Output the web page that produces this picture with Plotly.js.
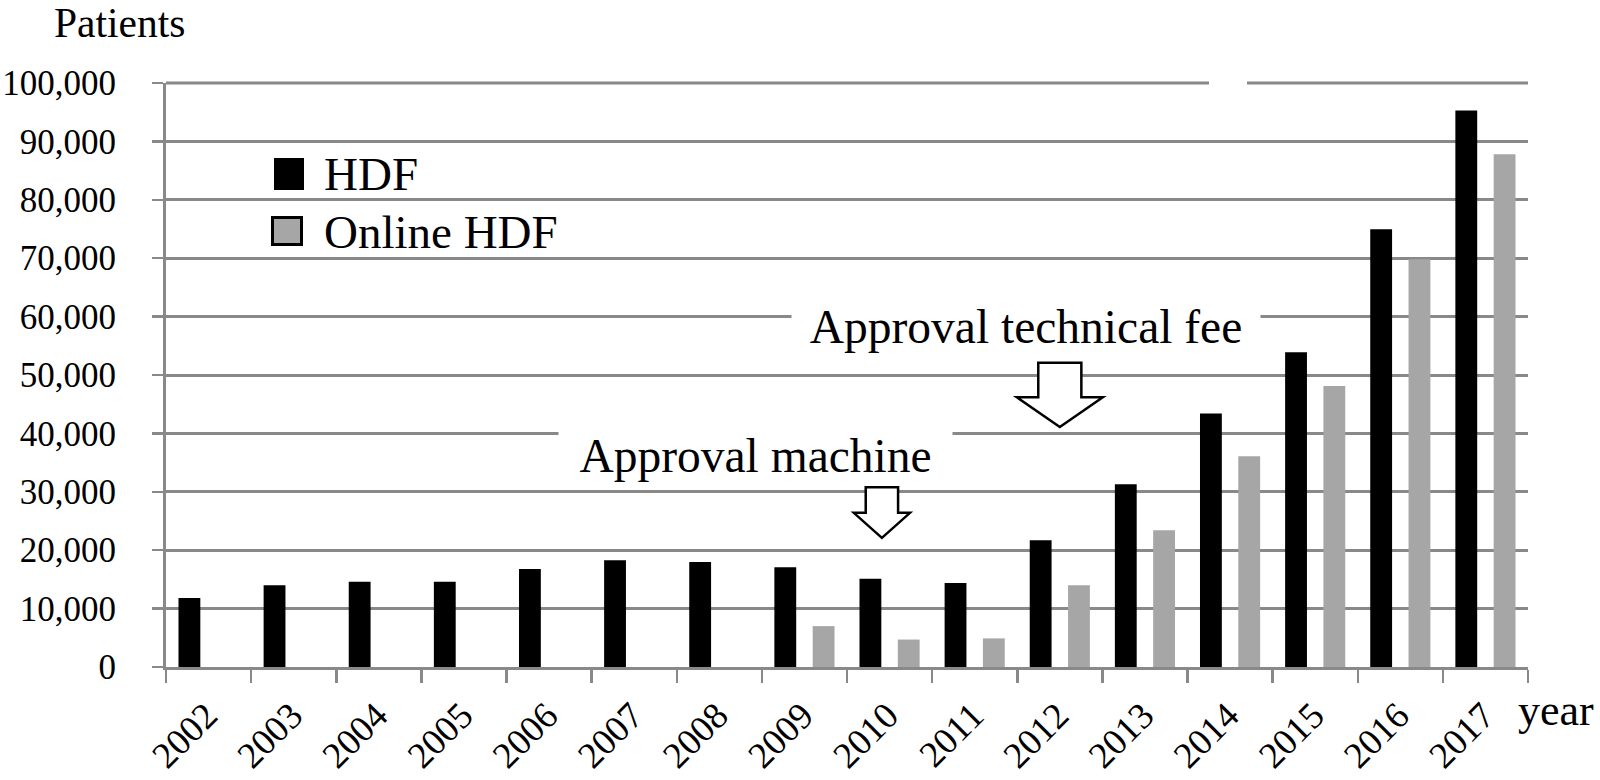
<!DOCTYPE html>
<html>
<head>
<meta charset="utf-8">
<script src="https://cdn.plot.ly/plotly-3.0.1.min.js"></script>
<style>html,body{margin:0;padding:0;background:#fff;}#chart{width:1600px;height:780px;}</style>
</head>
<body>
<div id="chart"></div>
<script>
// ---- data ----
const years = ['2002','2003','2004','2005','2006','2007','2008','2009','2010','2011','2012','2013','2014','2015','2016','2017'];
const hdfPatients = [11800, 14000, 14600, 14600, 16800, 18300, 18000, 17100, 15100, 14400, 21700, 31300, 43400, 53900, 74950, 95300];
const onlineHdfPatients = [null, null, null, null, null, null, null, 7000, 4700, 4900, 14000, 23400, 36100, 48100, 69800, 87800];
const seriesNames = ['HDF', 'Online HDF'];
const yTickValues = [0, 10000, 20000, 30000, 40000, 50000, 60000, 70000, 80000, 90000, 100000];

// ---- style ----
const FONT = 'Liberation Serif';
const GRID = '#898989';
const HDF_COLOR = '#000000';
const ONLINE_COLOR = '#a6a6a6';

const W = 1600, H = 780;
const M = {l: 166, r: 72, t: 83, b: 113};
const PW = W - M.l - M.r, PH = H - M.t - M.b;
const px = x => (x - M.l) / PW;           // pixel -> paper x
const py = y => (H - M.b - y) / PH;       // pixel -> paper y

const traces = [
  {type: 'bar', name: seriesNames[0], x: years, y: hdfPatients,
   marker: {color: HDF_COLOR, line: {width: 0}}, showlegend: false, hoverinfo: 'x+y+name'},
  {type: 'bar', name: seriesNames[1], x: years, y: onlineHdfPatients,
   marker: {color: ONLINE_COLOR, line: {width: 0}}, showlegend: false, hoverinfo: 'x+y+name'}
];

function blockArrow(cx, half, shaftHalf, top, neck, tip) {
  return {
    type: 'path', xref: 'x', yref: 'y', layer: 'above',
    path: `M ${cx - shaftHalf},${top} L ${cx + shaftHalf},${top} L ${cx + shaftHalf},${neck} L ${cx + half},${neck} L ${cx},${tip} L ${cx - half},${neck} L ${cx - shaftHalf},${neck} Z`,
    fillcolor: '#ffffff', line: {color: '#000000', width: 2.5}
  };
}

const shapes = [
  // top gridline (100,000), broken by a small gap as in the reference
  {type: 'line', xref: 'paper', yref: 'paper', layer: 'below',
   x0: 0, x1: px(1209), y0: 1, y1: 1, line: {color: GRID, width: 3}},
  {type: 'line', xref: 'paper', yref: 'paper', layer: 'below',
   x0: px(1247), x1: 1, y0: 1, y1: 1, line: {color: GRID, width: 3}},
  // arrows
  blockArrow(7.91, 0.33, 0.19, 30800, 26400, 22100),
  blockArrow(10.0, 0.505, 0.253, 52100, 46200, 41100),
  // legend keys
  {type: 'rect', xref: 'paper', yref: 'paper', layer: 'above',
   x0: px(274), x1: px(304), y0: py(190), y1: py(158), fillcolor: HDF_COLOR, line: {width: 0}},
  {type: 'rect', xref: 'paper', yref: 'paper', layer: 'above',
   x0: px(272.5), x1: px(301.5), y0: py(244.5), y1: py(217.5), fillcolor: ONLINE_COLOR, line: {color: '#000000', width: 3}}
];

const annotations = [
  {text: 'Patients', xref: 'paper', yref: 'paper', x: px(52), y: py(23), xanchor: 'left', yanchor: 'middle',
   showarrow: false, font: {family: FONT, size: 41.5, color: '#000'}},
  {text: 'year', xref: 'paper', yref: 'paper', x: px(1516), y: py(710), xanchor: 'left', yanchor: 'middle',
   showarrow: false, font: {family: FONT, size: 44, color: '#000'}},
  {text: seriesNames[0], xref: 'paper', yref: 'paper', x: px(322), y: py(174), xanchor: 'left', yanchor: 'middle',
   showarrow: false, font: {family: FONT, size: 47, color: '#000'}},
  {text: seriesNames[1], xref: 'paper', yref: 'paper', x: px(322), y: py(232), xanchor: 'left', yanchor: 'middle',
   showarrow: false, font: {family: FONT, size: 47, color: '#000'}},
  {text: 'Approval technical fee', xref: 'x', yref: 'y', x: 9.6, y: 58300, xanchor: 'center', yanchor: 'middle',
   showarrow: false, bgcolor: '#ffffff', width: 468, height: 58, borderpad: 0,
   font: {family: FONT, size: 47.5, color: '#000'}},
  {text: 'Approval machine', xref: 'x', yref: 'y', x: 6.43, y: 36200, xanchor: 'center', yanchor: 'middle',
   showarrow: false, bgcolor: '#ffffff', width: 393, height: 58, borderpad: 0,
   font: {family: FONT, size: 47.5, color: '#000'}}
];

const layout = {
  width: W, height: H,
  margin: M,
  paper_bgcolor: '#ffffff', plot_bgcolor: '#ffffff',
  barmode: 'group', bargap: 0.1, bargroupgap: 0.43,
  showlegend: false,
  font: {family: FONT, color: '#000'},
  xaxis: {
    type: 'category', categoryorder: 'array', categoryarray: years,
    tickson: 'boundaries', ticks: 'outside', ticklen: 13, tickwidth: 2.5, tickcolor: GRID,
    showline: true, linecolor: GRID, linewidth: 3,
    showgrid: false, zeroline: false,
    tickangle: -45, tickfont: {family: FONT, size: 37, color: '#000'},
    ticklabelstandoff: 9, ticklabelshift: -2
  },
  yaxis: {
    range: [0, 100000], tickvals: yTickValues, tickformat: ',d',
    ticks: 'outside', ticklen: 11, tickwidth: 2.5, tickcolor: GRID,
    showline: true, linecolor: GRID, linewidth: 3,
    showgrid: true, gridcolor: GRID, gridwidth: 3, zeroline: false,
    tickfont: {family: FONT, size: 35, color: '#000'},
    ticklabelstandoff: 29
  },
  shapes: shapes,
  annotations: annotations
};

Plotly.newPlot('chart', traces, layout, {displayModeBar: false, staticPlot: true});
</script>
</body>
</html>
